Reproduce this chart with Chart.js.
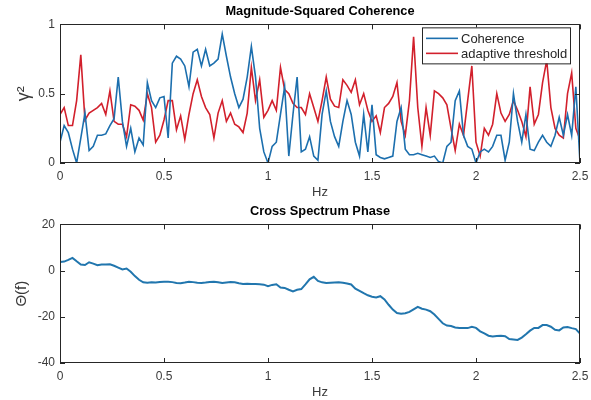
<!DOCTYPE html>
<html>
<head>
<meta charset="utf-8">
<script src="https://cdn.jsdelivr.net/npm/chart.js@4.4.1/dist/chart.umd.min.js"></script>
<style>
  html, body { margin: 0; padding: 0; background: #fff; }
  #wrap { position: relative; width: 591px; height: 400px; }
  canvas { position: absolute; left: 0; }
  #cohChart { top: 0; }
  #phaseChart { top: 200px; }
</style>
</head>
<body>
<div id="wrap">
  <canvas id="cohChart" width="591" height="200" style="width:591px;height:200px"></canvas>
  <canvas id="phaseChart" width="591" height="200" style="width:591px;height:200px"></canvas>
</div>
<script>
// frequency grid (Hz), 0.02 Hz spacing from 0 to 2.5
const freqStep = 0.02;
const freqCount = 126;

const coherence = [
  0.15, 0.27, 0.22, 0.10, 0.00, 0.18, 0.36, 0.09, 0.12, 0.20,
  0.20, 0.21, 0.27, 0.32, 0.62, 0.30, 0.12, 0.25, 0.08, 0.18,
  0.13, 0.58, 0.45, 0.40, 0.47, 0.48, 0.18, 0.72, 0.77, 0.75,
  0.70, 0.55, 0.80, 0.82, 0.70, 0.82, 0.70, 0.72, 0.75, 0.93,
  0.77, 0.62, 0.50, 0.40, 0.46, 0.62, 0.84, 0.62, 0.25, 0.08,
  0.00, 0.12, 0.15, 0.35, 0.55, 0.05, 0.35, 0.62, 0.08, 0.10,
  0.19, 0.05, 0.02, 0.35, 0.52, 0.30, 0.19, 0.12, 0.30, 0.45,
  0.35, 0.15, 0.05, 0.35, 0.08, 0.42, 0.06, 0.04, 0.03, 0.04,
  0.05, 0.30, 0.40, 0.10, 0.06, 0.06, 0.07, 0.06, 0.05, 0.04,
  0.05, 0.01, 0.00, 0.12, 0.15, 0.45, 0.52, 0.20, 0.12, 0.10,
  0.00, 0.08, 0.10, 0.08, 0.12, 0.20, 0.20, 0.02, 0.15, 0.50,
  0.30, 0.15, 0.35, 0.10, 0.09, 0.15, 0.20, 0.15, 0.12, 0.20,
  0.33, 0.20, 0.35, 0.20, 0.55, 0.00,
];

const threshold = [
  0.35, 0.40, 0.27, 0.27, 0.45, 0.78, 0.31, 0.36, 0.38, 0.40,
  0.43, 0.35, 0.52, 0.30, 0.28, 0.28, 0.19, 0.42, 0.41, 0.38,
  0.31, 0.50, 0.40, 0.15, 0.20, 0.31, 0.45, 0.45, 0.24, 0.34,
  0.17, 0.35, 0.50, 0.60, 0.48, 0.40, 0.35, 0.18, 0.36, 0.45,
  0.30, 0.36, 0.28, 0.26, 0.22, 0.36, 0.69, 0.45, 0.60, 0.33,
  0.38, 0.45, 0.38, 0.69, 0.53, 0.50, 0.43, 0.40, 0.40, 0.35,
  0.50, 0.40, 0.30, 0.45, 0.62, 0.46, 0.41, 0.40, 0.60, 0.56,
  0.51, 0.60, 0.42, 0.50, 0.38, 0.30, 0.34, 0.22, 0.40, 0.43,
  0.48, 0.58, 0.30, 0.20, 0.45, 0.91, 0.40, 0.12, 0.40, 0.20,
  0.52, 0.50, 0.47, 0.42, 0.25, 0.09, 0.28, 0.20, 0.45, 0.70,
  0.15, 0.05, 0.25, 0.20, 0.28, 0.50, 0.36, 0.30, 0.35, 0.45,
  0.38, 0.30, 0.19, 0.55, 0.28, 0.35, 0.58, 0.74, 0.40, 0.25,
  0.20, 0.18, 0.50, 0.65, 0.25, 0.17,
];

const phase = [
  3.7, 3.9, 4.6, 5.5, 4.0, 2.6, 2.4, 3.6, 3.0, 2.3,
  2.6, 2.6, 2.7, 2.1, 1.3, 0.5, 0.9, -0.5, -2.4, -4.0,
  -5.1, -5.3, -5.1, -5.2, -4.9, -4.8, -4.8, -5.0, -5.4, -5.5,
  -5.2, -4.8, -5.0, -5.3, -5.4, -5.2, -4.9, -4.8, -5.1, -5.4,
  -5.2, -5.0, -5.1, -5.5, -5.8, -5.7, -5.8, -5.8, -5.9, -6.1,
  -6.8, -6.2, -5.9, -7.3, -7.5, -8.3, -9.0, -8.3, -8.0, -6.0,
  -3.8, -2.7, -4.5, -5.1, -5.4, -5.3, -5.2, -5.1, -5.3, -5.6,
  -6.0, -7.8, -8.8, -9.8, -10.7, -11.3, -11.6, -11.1, -12.5, -14.8,
  -16.9, -18.4, -18.7, -18.5, -17.9, -16.8, -15.7, -16.5, -16.9, -17.6,
  -19.0, -20.9, -22.8, -23.8, -24.0, -24.6, -24.9, -24.8, -24.9, -24.3,
  -24.8, -26.3, -27.2, -28.2, -28.5, -28.3, -28.2, -28.4, -29.6, -29.8,
  -30.0, -29.0, -27.6, -26.0, -24.8, -24.8, -23.6, -23.6, -24.3, -25.6,
  -25.9, -24.6, -24.4, -24.9, -25.3, -27.3,
];

const xTicks = [0, 0.5, 1, 1.5, 2, 2.5];
const cohTicks = [0, 0.5, 1];
const phaseTicks = [-40, -20, 0, 20];

const axisColor = "#262626";
const blue = "#1c6fae";
const red = "#d2202c";
const fontFamily = "'Liberation Sans', Arial, sans-serif";

function toPoints(values) {
  const pts = [];
  for (let i = 0; i < freqCount; i++) {
    pts.push({ x: Math.round(i * freqStep * 100) / 100, y: values[i] });
  }
  return pts;
}

// box around the axes with inward tick marks, like MATLAB
const matlabBox = {
  id: "matlabBox",
  afterDatasetsDraw(chart) {
    const { ctx, chartArea: a, scales } = chart;
    ctx.save();
    ctx.strokeStyle = axisColor;
    ctx.lineWidth = 1;
    ctx.strokeRect(Math.round(a.left) + 0.5, Math.round(a.top) + 0.5,
      Math.round(a.width) - 1, Math.round(a.height) - 1);
    ctx.beginPath();
    scales.x.ticks.forEach((t) => {
      const px = Math.round(scales.x.getPixelForValue(t.value)) + 0.5;
      ctx.moveTo(px, a.bottom); ctx.lineTo(px, a.bottom - 5);
      ctx.moveTo(px, a.top); ctx.lineTo(px, a.top + 5);
    });
    scales.y.ticks.forEach((t) => {
      const py = Math.round(scales.y.getPixelForValue(t.value)) + 0.5;
      ctx.moveTo(a.left, py); ctx.lineTo(a.left + 5, py);
      ctx.moveTo(a.right, py); ctx.lineTo(a.right - 5, py);
    });
    ctx.stroke();
    ctx.restore();
  },
};

// legend box in the top right corner of the axes
const boxLegend = {
  id: "boxLegend",
  afterDraw(chart) {
    const { ctx, chartArea: a } = chart;
    const w = 148, h = 36;
    const x0 = a.right - 10 - w, y0 = a.top + 3;
    ctx.save();
    ctx.fillStyle = "#fff";
    ctx.fillRect(x0, y0, w, h);
    ctx.strokeStyle = axisColor;
    ctx.lineWidth = 1;
    ctx.strokeRect(x0 + 0.5, y0 + 0.5, w, h);
    ctx.font = "13px " + fontFamily;
    ctx.textBaseline = "middle";
    chart.data.datasets.forEach((ds, i) => {
      const y = y0 + 11 + i * 15;
      ctx.strokeStyle = ds.borderColor;
      ctx.lineWidth = 1.6;
      ctx.beginPath();
      ctx.moveTo(x0 + 4, y);
      ctx.lineTo(x0 + 36, y);
      ctx.stroke();
      ctx.fillStyle = axisColor;
      ctx.fillText(ds.label, x0 + 39, y + 1);
    });
    ctx.restore();
  },
};

function axesOptions(yMin, yMax, yStep, yTitle, yTitleSize, titleText) {
  return {
    responsive: false,
    animation: false,
    layout: { padding: { top: 1, right: 11, bottom: 0, left: 0 } },
    plugins: {
      legend: { display: false },
      tooltip: { enabled: false },
      title: {
        display: true,
        text: titleText,
        fullSize: false,
        color: "#000",
        font: { family: fontFamily, size: 12.8, weight: "bold" },
        padding: { top: 3, bottom: 5 },
      },
    },
    scales: {
      x: {
        type: "linear",
        min: 0,
        max: 2.5,
        afterBuildTicks: (s) => { s.ticks = xTicks.map((v) => ({ value: v })); },
        afterFit: (s) => { s.height = 37; s.paddingLeft = 0; s.paddingRight = 0; },
        ticks: {
          color: "#3a3a3a",
          padding: 6,
          font: { family: fontFamily, size: 12 },
          callback: (v) => String(v),
        },
        grid: { display: false, drawTicks: false },
        border: { display: false },
        title: {
          display: true,
          text: "Hz",
          color: "#3a3a3a",
          font: { family: fontFamily, size: 13 },
          padding: { top: 0, bottom: 0 },
        },
      },
      y: {
        type: "linear",
        min: yMin,
        max: yMax,
        afterBuildTicks: (s) => { s.ticks = yStep.map((v) => ({ value: v })); },
        afterFit: (s) => { s.width = 60; s.paddingTop = 0; s.paddingBottom = 0; },
        ticks: {
          color: "#3a3a3a",
          padding: 5,
          font: { family: fontFamily, size: 12 },
          callback: (v) => String(v),
        },
        grid: { display: false, drawTicks: false },
        border: { display: false },
        title: {
          display: true,
          text: yTitle,
          color: "#3a3a3a",
          font: { family: fontFamily, size: yTitleSize },
          padding: { top: 13, bottom: 0 },
        },
      },
    },
  };
}

function initCharts() {
  new Chart(document.getElementById("cohChart").getContext("2d"), {
    type: "line",
    data: {
      datasets: [
        {
          label: "Coherence",
          data: toPoints(coherence),
          borderColor: blue,
          borderWidth: 1.6,
          pointRadius: 0,
          tension: 0,
        },
        {
          label: "adaptive threshold",
          data: toPoints(threshold),
          borderColor: red,
          borderWidth: 1.6,
          pointRadius: 0,
          tension: 0,
        },
      ],
    },
    options: axesOptions(0, 1, cohTicks, "γ²", 18, "Magnitude-Squared Coherence"),
    plugins: [matlabBox, boxLegend],
  });

  new Chart(document.getElementById("phaseChart").getContext("2d"), {
    type: "line",
    data: {
      datasets: [
        {
          label: "Phase",
          data: toPoints(phase),
          borderColor: "#2176ae",
          borderWidth: 2,
          pointRadius: 0,
          tension: 0,
        },
      ],
    },
    options: axesOptions(-40, 20, phaseTicks, "Θ(f)", 15, "Cross Spectrum Phase"),
    plugins: [matlabBox],
  });
}

if (document.readyState === "loading") {
  document.addEventListener("DOMContentLoaded", initCharts);
} else {
  initCharts();
}
</script>
</body>
</html>
